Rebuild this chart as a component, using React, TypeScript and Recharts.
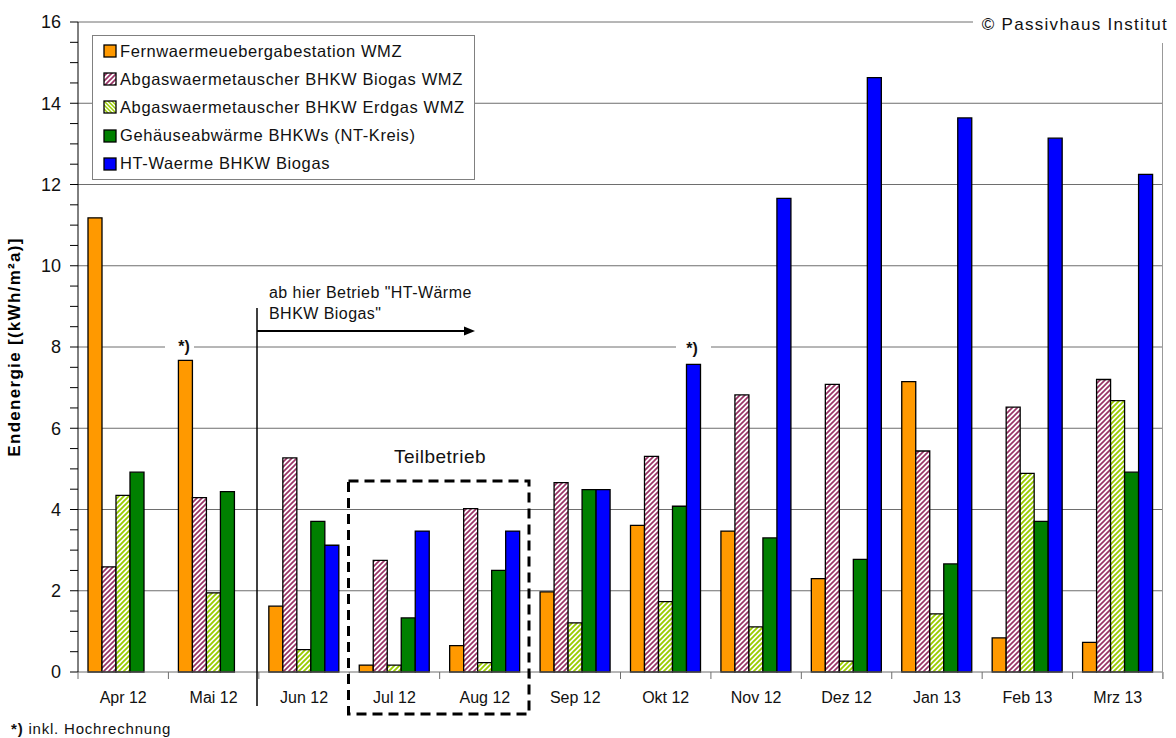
import { BarChart, Bar, XAxis, YAxis, CartesianGrid, Legend } from 'recharts';

const categories = ['Apr 12', 'Mai 12', 'Jun 12', 'Jul 12', 'Aug 12', 'Sep 12', 'Okt 12', 'Nov 12', 'Dez 12', 'Jan 13', 'Feb 13', 'Mrz 13'];
const fernwaerme = [11.18, 7.67, 1.62, 0.17, 0.65, 1.97, 3.61, 3.47, 2.3, 7.15, 0.84, 0.73];
const abgasBiogas = [2.59, 4.29, 5.27, 2.75, 4.02, 4.66, 5.31, 6.82, 7.08, 5.44, 6.52, 7.2];
const abgasErdgas = [4.35, 1.95, 0.55, 0.17, 0.23, 1.21, 1.73, 1.11, 0.27, 1.43, 4.89, 6.68];
const gehaeuse = [4.92, 4.44, 3.71, 1.33, 2.5, 4.49, 4.08, 3.3, 2.77, 2.66, 3.71, 4.92];
const htWaerme = [null, null, 3.12, 3.47, 3.47, 4.49, 7.57, 11.66, 14.63, 13.64, 13.14, 12.25];

const yTicks = [0, 0.5, 1, 1.5, 2, 2.5, 3, 3.5, 4, 4.5, 5, 5.5, 6, 6.5, 7, 7.5, 8, 8.5, 9, 9.5, 10, 10.5, 11, 11.5, 12, 12.5, 13, 13.5, 14, 14.5, 15, 15.5, 16];
const gridValues = [2, 4, 6, 8, 10, 12, 14, 16];

const series = [
  { key: 'fern', name: 'Fernwaermeuebergabestation WMZ', fill: '#FF9900', legendFill: '#FF9900' },
  { key: 'bio', name: 'Abgaswaermetauscher BHKW Biogas WMZ', fill: 'url(#hatchPink)', legendFill: 'url(#hatchPink)' },
  { key: 'erd', name: 'Abgaswaermetauscher BHKW Erdgas WMZ', fill: 'url(#hatchGreen)', legendFill: 'url(#hatchGreenLeg)' },
  { key: 'geh', name: 'Gehäuseabwärme BHKWs (NT-Kreis)', fill: '#008000', legendFill: '#008000' },
  { key: 'ht', name: 'HT-Waerme BHKW Biogas', fill: '#0000FF', legendFill: '#0000FF' },
];

const data = categories.map((c, i) => ({
  month: c,
  fern: fernwaerme[i],
  bio: abgasBiogas[i],
  erd: abgasErdgas[i],
  geh: gehaeuse[i],
  ht: htWaerme[i],
}));

const W = 1176;
const H = 738;
const M = { top: 22, right: 13, left: 0, bottom: 0 };
const Y_W = 78;
const X_H = 66;
const BAND = (W - M.left - M.right - Y_W) / categories.length;
const FONT = '"Liberation Sans", Arial, sans-serif';
const GRID = '#6e6e6e';

function XTick(props: any) {
  const { x, y, payload, index } = props;
  const half = payload && payload.offset ? payload.offset : BAND / 2;
  return (
    <g>
      <line x1={x - half} y1={y} x2={x - half} y2={y + 7} stroke={GRID} />
      {index === categories.length - 1 && <line x1={x + half} y1={y} x2={x + half} y2={y + 7} stroke={GRID} />}
      <text x={x} y={y + 31} textAnchor="middle" fontSize={16} fill="#111" fontFamily={FONT}>
        {payload.value}
      </text>
    </g>
  );
}

function LegendBox() {
  return (
    <div
      style={{
        border: '1px solid #808080',
        background: '#fff',
        width: 381,
        height: 142,
        boxSizing: 'content-box',
        paddingTop: 1,
        fontFamily: FONT,
      }}
    >
      {series.map((s) => (
        <div key={s.key} style={{ display: 'flex', alignItems: 'center', height: 28.2, paddingLeft: 10 }}>
          <svg width={14} height={14} style={{ marginRight: 3 }}>
            <rect x={1} y={1} width={12} height={12} fill={s.legendFill} stroke="#000" strokeWidth={1.3} />
          </svg>
          <span style={{ fontSize: 16.5, letterSpacing: 0.6, color: '#111', whiteSpace: 'nowrap' }}>{s.name}</span>
        </div>
      ))}
    </div>
  );
}

function Annotations() {
  return (
    <svg width={W} height={H} style={{ position: 'absolute', left: 0, top: 0, pointerEvents: 'none' }} fontFamily={FONT}>
      {/* copyright over the top gridline */}
      <rect x={973} y={8} width={203} height={28} fill="#fff" />
      <text x={1168} y={30} textAnchor="end" fontSize={17} letterSpacing={1.3} fill="#111">
        © Passivhaus Institut
      </text>
      <line x1={1162.5} y1={43} x2={1162.5} y2={679} stroke="#999" />

      {/* *) marks */}
      <rect x={165} y={336} width={29} height={22} fill="#fff" />
      <text x={184} y={352} textAnchor="middle" fontSize={16} fontWeight="bold" fill="#111">*)</text>
      <rect x={676} y={336} width={35} height={22} fill="#fff" />
      <text x={692} y={354} textAnchor="middle" fontSize={16} fontWeight="bold" fill="#111">*)</text>

      {/* start of HT operation */}
      <line x1={257} y1={308} x2={257} y2={706} stroke="#000" strokeWidth={1.5} />
      <line x1={257} y1={331} x2={466} y2={331} stroke="#000" strokeWidth={2} />
      <path d="M475,331 L464,326.5 L464,335.5 Z" fill="#000" />
      <text x={269} y={298} fontSize={16} letterSpacing={0.45} fill="#111">ab hier Betrieb "HT-Wärme</text>
      <text x={269} y={319} fontSize={16} letterSpacing={0.45} fill="#111">BHKW Biogas"</text>

      {/* Teilbetrieb */}
      <text x={440} y={463} textAnchor="middle" fontSize={19} letterSpacing={0.5} fill="#111">Teilbetrieb</text>
      <rect x={348.5} y={481} width={180.5} height={233} fill="none" stroke="#000" strokeWidth={3} strokeDasharray="10 6" />

      {/* footnote */}
      <text x={11} y={734} fontSize={15} letterSpacing={0.8} fill="#111">
        <tspan fontWeight="bold">*)</tspan> inkl. Hochrechnung
      </text>
    </svg>
  );
}

export default function App() {
  return (
    <div style={{ position: 'absolute', left: 0, top: 0, width: W, height: H, background: '#fff' }}>
      <svg width={0} height={0} style={{ position: 'absolute' }}>
        <defs>
          <pattern id="hatchPink" patternUnits="userSpaceOnUse" width={5} height={5}>
            <rect width={5} height={5} fill="#fff" />
            <path d="M-1,1 L1,-1 M0,5 L5,0 M4,6 L6,4" stroke="#993366" strokeWidth={1.7} />
          </pattern>
          <pattern id="hatchGreen" patternUnits="userSpaceOnUse" width={5} height={5}>
            <rect width={5} height={5} fill="#fff" />
            <path d="M-1,1 L1,-1 M0,5 L5,0 M4,6 L6,4" stroke="#99CC00" strokeWidth={1.9} />
          </pattern>
          <pattern id="hatchGreenLeg" patternUnits="userSpaceOnUse" width={4} height={4}>
            <rect width={4} height={4} fill="#fff" />
            <path d="M-1,3 L1,5 M0,0 L4,4 M3,-1 L5,1" stroke="#99CC00" strokeWidth={1.5} />
          </pattern>
        </defs>
      </svg>
      <BarChart width={W} height={H} data={data} margin={M} barGap={0} barCategoryGap={10}>
        <CartesianGrid
          vertical={false}
          stroke={GRID}
          horizontalCoordinatesGenerator={({ yAxis, offset }: any) =>
            gridValues.map((v) =>
              yAxis && typeof yAxis.scale === 'function' ? yAxis.scale(v) : offset.top + offset.height * (1 - v / 16)
            )
          }
        />
        <XAxis
          dataKey="month"
          height={X_H}
          axisLine={{ stroke: GRID }}
          tickLine={false}
          tickSize={0}
          tickMargin={0}
          interval={0}
          tick={<XTick />}
        />
        <YAxis
          width={Y_W}
          domain={[0, 16]}
          ticks={yTicks}
          interval={0}
          axisLine={{ stroke: '#000' }}
          tickLine={{ stroke: '#000' }}
          tickSize={8}
          tickMargin={9}
          tickFormatter={(v: number) => (v % 2 === 0 ? String(v) : '')}
          tick={{ fill: '#111', fontSize: 18, fontFamily: FONT }}
          label={{
            value: 'Endenergie [(kWh/m²a)]',
            angle: -90,
            position: 'insideLeft',
            offset: 14,
            style: { textAnchor: 'middle', fontWeight: 'bold', fontSize: 17, letterSpacing: 1.3, fill: '#000', fontFamily: FONT },
          }}
        />
        <Legend
          layout="vertical"
          align="center"
          verticalAlign="middle"
          wrapperStyle={{ left: 92, top: 35, width: 'auto' }}
          content={<LegendBox />}
        />
        {series.map((s) => (
          <Bar
            key={s.key}
            dataKey={s.key}
            name={s.name}
            fill={s.fill}
            stroke="#000"
            strokeWidth={1.3}
            isAnimationActive={false}
          />
        ))}
      </BarChart>
      <Annotations />
    </div>
  );
}
